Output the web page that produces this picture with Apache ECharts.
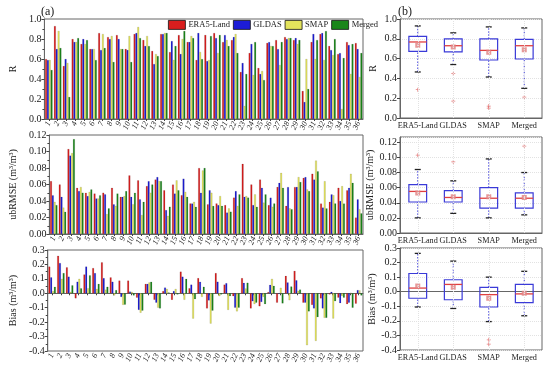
<!DOCTYPE html>
<html><head><meta charset="utf-8">
<script src="https://cdn.jsdelivr.net/npm/echarts@6/dist/echarts.min.js"></script>
<style>html,body{margin:0;padding:0;background:#fff}#c{width:550px;height:369px}</style>
</head><body><div id="c"></div><script>
// ---------- data ----------
const stations = ['1','2','3','4','5','6','7','8','9','10','11','12','13','14','15','16','17','18','19','20','21','22','23','24','25','26','27','28','29','30','31','32','33','34','35','36'];
const products = ['ERA5-Land','GLDAS','SMAP','Merged'];

const rERA5   = [0.60,0.93,0.53,0.80,0.75,0.70,0.86,0.82,0.84,0.70,0.85,0.79,0.68,0.85,0.67,0.84,0.77,0.59,0.84,0.86,0.77,0.79,0.47,0.66,0.51,0.76,0.79,0.82,0.79,0.28,0.77,0.85,0.73,0.65,0.77,0.76];
const rGLDAS  = [0.59,0.70,0.60,0.77,0.80,0.70,0.69,0.80,0.80,0.69,0.86,0.73,0.55,0.85,0.78,0.65,0.77,0.86,0.58,0.81,0.84,0.82,0.56,0.75,0.45,0.77,0.70,0.80,0.81,0.17,0.85,0.86,0.69,0.66,0.74,0.70];
const rSMAP   = [0.59,0.88,0.56,0.77,0.75,0.70,0.85,0.83,0.70,0.83,0.92,0.83,0.65,0.86,0.59,0.80,0.83,0.67,0.59,0.66,0.79,0.85,0.13,0.44,0.48,0.73,0.54,0.81,0.75,0.60,0.60,0.59,0.64,0.10,0.45,0.42];
const rMerged = [0.49,0.71,0.22,0.81,0.79,0.59,0.71,0.57,0.70,0.57,0.81,0.73,0.63,0.86,0.73,0.88,0.81,0.60,0.83,0.84,0.73,0.66,0.45,0.77,0.39,0.73,0.77,0.81,0.79,0.30,0.79,0.88,0.80,0.61,0.75,0.66];

const ubERA5   = [0.064,0.060,0.103,0.056,0.050,0.049,0.050,0.056,0.045,0.071,0.065,0.058,0.066,0.053,0.060,0.047,0.037,0.080,0.036,0.037,0.035,0.044,0.085,0.060,0.066,0.035,0.057,0.034,0.057,0.068,0.073,0.037,0.039,0.056,0.053,0.020];
const ubGLDAS  = [0.047,0.045,0.095,0.052,0.046,0.043,0.048,0.036,0.045,0.045,0.042,0.064,0.069,0.029,0.049,0.067,0.037,0.050,0.053,0.035,0.026,0.052,0.045,0.035,0.056,0.044,0.062,0.057,0.057,0.069,0.066,0.032,0.048,0.040,0.056,0.042];
const ubSMAP   = [0.039,0.032,0.098,0.057,0.051,0.043,0.024,0.034,0.046,0.036,0.023,0.050,0.064,0.022,0.065,0.051,0.039,0.077,0.050,0.046,0.031,0.034,0.046,0.048,0.038,0.033,0.074,0.031,0.069,0.054,0.089,0.064,0.047,0.058,0.073,0.030];
const ubMerged = [0.035,0.027,0.115,0.050,0.054,0.047,0.031,0.049,0.052,0.050,0.039,0.060,0.064,0.033,0.053,0.045,0.033,0.080,0.034,0.034,0.027,0.048,0.044,0.033,0.048,0.037,0.056,0.030,0.063,0.052,0.076,0.031,0.037,0.037,0.062,0.025];

const biasERA5   = [0.185,0.26,0.18,-0.035,0.13,0.175,0.215,0.11,0.088,0.088,-0.03,0.065,-0.045,0.015,-0.045,0.15,0.035,0.105,-0.105,0.14,0.06,-0.02,0.105,-0.105,-0.09,0.008,-0.065,0.12,0.155,-0.065,-0.08,-0.035,-0.008,-0.03,-0.075,-0.072];
const biasGLDAS  = [0.11,0.21,0.115,0.08,0.185,0.14,0.105,0.08,-0.025,0.012,-0.115,0.065,-0.065,0.04,0.015,0.115,0.06,0.08,-0.05,0.08,0.07,-0.10,0.072,-0.055,-0.06,0.058,-0.005,0.075,0.09,-0.065,-0.105,-0.105,0.01,-0.068,-0.065,0.022];
const biasSMAP   = [0.015,0.10,0.01,0.10,0.035,0.03,0.025,-0.015,-0.08,0.01,-0.135,0.075,-0.10,0.03,0.03,-0.045,-0.175,-0.025,-0.21,-0.02,-0.115,-0.125,0.033,-0.075,-0.025,0.10,0.038,-0.048,0.017,-0.36,-0.33,-0.17,-0.175,-0.018,0.003,0.02];
const biasMerged = [0.045,0.14,0.055,0.035,0.125,0.065,0.045,0.022,-0.078,-0.015,-0.12,0.08,-0.105,0.005,-0.008,0.10,-0.04,0.045,-0.12,-0.008,-0.02,-0.10,0.073,-0.065,-0.075,0.052,-0.07,0.047,0.026,-0.125,-0.165,-0.17,-0.055,-0.03,-0.10,-0.015];

// box stats: [min whisker, Q1, median, Q3, max whisker]
const rBox  = [[0.465,0.673,0.768,0.825,0.93],[0.54,0.667,0.73,0.80,0.86],[0.414,0.586,0.683,0.80,0.92],[0.30,0.596,0.73,0.795,0.91]];
const rMean = [0.734,0.717,0.663,0.69];
const rOut  = [[0,0.286],[1,0.448],[1,0.17],[2,0.12],[2,0.10],[3,0.21]];
const ubBox  = [[0.020,0.041,0.055,0.064,0.084],[0.026,0.041,0.047,0.056,0.069],[0.020,0.033,0.046,0.060,0.098],[0.024,0.033,0.046,0.053,0.080]];
const ubMean = [0.053,0.048,0.048,0.047];
const ubOut  = [[0,0.103],[1,0.094],[3,0.115]];
const biasBox  = [[-0.105,-0.045,0.025,0.125,0.263],[-0.115,-0.055,0.05,0.082,0.21],[-0.205,-0.105,-0.02,0.03,0.10],[-0.165,-0.075,-0.015,0.05,0.14]];
const biasMean = [0.04,0.03,-0.045,-0.01];
const biasOut  = [[2,-0.33],[2,-0.36]];

// ---------- styling ----------
const FONT = 'Liberation Serif';
const colors = ['#d91e1e','#1c1cd6','#e3e35c','#1a861a'];
const txt = '#222';

const gridsA = [
  {left:36, top:19, width:327, height:100},
  {left:36, top:135, width:327, height:99},
  {left:36, top:250, width:327, height:101}
];
const gridsB = [
  {left:400, top:19, width:142, height:99},
  {left:400, top:137, width:142, height:96},
  {left:400, top:248, width:142, height:102}
];
const grid = gridsA.concat(gridsB).map(g => Object.assign({show:true, borderColor:'#666', borderWidth:1, backgroundColor:'transparent'}, g));

const yDefs = [
  {min:0, max:1, interval:0.2, dec:1, name:'R', gap:19},
  {min:0, max:0.12, interval:0.02, dec:2, name:'ubRMSE (m³/m³)', gap:23},
  {min:-0.4, max:0.3, interval:0.1, dec:1, name:'Bias (m³/m³)', gap:22},
  {min:0, max:1, interval:0.2, dec:1, name:'R', gap:22},
  {min:0, max:0.127, interval:0.02, dec:2, name:'ubRMSE (m³/m³)', gap:25},
  {min:-0.4, max:0.3, interval:0.1, dec:1, name:'Bias (m³/m³)', gap:23}
];

const yAxis = yDefs.map((d,i) => ({
  type:'value', gridIndex:i, min:d.min, max:d.max, interval:d.interval,
  name:d.name, nameLocation:'middle', nameGap:d.gap,
  nameTextStyle:{fontFamily:FONT, fontSize:10, color:txt},
  axisLine:{show:true, lineStyle:{color:'#666'}},
  axisTick:{show:true, length:3, lineStyle:{color:'#444'}},
  minorTick:{show:i<3, splitNumber:2, length:2, lineStyle:{color:'#444'}},
  axisLabel:{fontFamily:FONT, fontSize:10, color:txt, margin:3, showMaxLabel: i!==4,
    formatter: v => (Math.round(v*1000)/1000).toFixed(d.dec)},
  splitLine:{show:i>=3, lineStyle:{color:'#e2e2e2', type:'dotted'}}
}));

const xAxis = [];
for (let i=0;i<3;i++) xAxis.push({
  type:'category', gridIndex:i, data:stations,
  axisLine:{lineStyle:{color:'#666'}},
  axisTick:{show:true, length:2, interval:0, alignWithLabel:true, lineStyle:{color:'#444'}},
  axisLabel:{interval:0, rotate:65, fontFamily:FONT, fontSize:8, fontStyle:'italic', color:txt, margin:3}
});
for (let i=0;i<3;i++) xAxis.push({
  type:'category', gridIndex:3+i, data:products,
  axisLine:{lineStyle:{color:'#666'}},
  axisTick:{show:false},
  axisLabel:{fontFamily:FONT, fontSize:8.2, color:txt, margin:4, interval:0}
});

const series = [];
const barSets = [
  [rERA5, rGLDAS, rSMAP, rMerged],
  [ubERA5, ubGLDAS, ubSMAP, ubMerged],
  [biasERA5, biasGLDAS, biasSMAP, biasMerged]
];
barSets.forEach((set, gi) => {
  set.forEach((arr, si) => {
    series.push({
      type:'bar', name:products[si], xAxisIndex:gi, yAxisIndex:gi, data:arr,
      barGap:'0%', barCategoryGap:'16%',
      itemStyle:{color:colors[si], borderColor:'rgba(0,0,0,0.35)', borderWidth:0.3},
      emphasis:{disabled:true}
    });
  });
});

function renderBox(params, api) {
  const x = api.value(0);
  const p = [1,2,3,4,5].map(k => api.coord([x, api.value(k)]));
  const cx = p[0][0];
  const bw = api.size([1,0])[0]*0.5;
  const cw = 3;
  const dash = {stroke:'#4040dd', lineWidth:1, lineDash:[1.5,1.5]};
  return {type:'group', children:[
    {type:'line', shape:{x1:cx, y1:p[0][1], x2:cx, y2:p[1][1]}, style:dash},
    {type:'line', shape:{x1:cx, y1:p[3][1], x2:cx, y2:p[4][1]}, style:dash},
    {type:'line', shape:{x1:cx-cw, y1:p[0][1], x2:cx+cw, y2:p[0][1]}, style:{stroke:'#222', lineWidth:1.3}},
    {type:'line', shape:{x1:cx-cw, y1:p[4][1], x2:cx+cw, y2:p[4][1]}, style:{stroke:'#222', lineWidth:1.3}},
    {type:'rect', shape:{x:cx-bw/2, y:p[3][1], width:bw, height:p[1][1]-p[3][1]}, style:{fill:'none', stroke:'#3a3ad8', lineWidth:1.2}},
    {type:'line', shape:{x1:cx-bw/2, y1:p[2][1], x2:cx+bw/2, y2:p[2][1]}, style:{stroke:'#e04040', lineWidth:1.3}}
  ]};
}

const boxSets = [[rBox,rMean,rOut],[ubBox,ubMean,ubOut],[biasBox,biasMean,biasOut]];
boxSets.forEach((b, k) => {
  const gi = 3+k;
  series.push({
    type:'custom', xAxisIndex:gi, yAxisIndex:gi, renderItem:renderBox,
    encode:{x:0, y:[1,2,3,4,5]},
    data: b[0].map((s,i) => [i].concat(s)), z:3
  });
  series.push({
    type:'scatter', xAxisIndex:gi, yAxisIndex:gi, symbol:'emptyRect', symbolSize:3,
    itemStyle:{color:'#e08080', borderWidth:0.8},
    data: b[1].map((m,i) => [i, m]), z:4,
    markLine:{silent:true, symbol:'none', label:{show:false},
      lineStyle:{color:'#e2e2e2', type:'dotted', width:1},
      data: products.map((p,i) => ({xAxis:i}))}
  });
  series.push({
    type:'scatter', xAxisIndex:gi, yAxisIndex:gi,
    symbol:'path://M4,0H6V4H10V6H6V10H4V6H0V4H4Z', symbolSize:4,
    itemStyle:{color:'#e06060'}, data: b[2], z:4
  });
});

const chart = echarts.init(document.getElementById('c'), null, {renderer:'canvas'});
chart.setOption({
  animation:false,
  backgroundColor:'#fff',
  title:[
    {text:'(a)', left:36, top:1, textStyle:{fontFamily:FONT, fontSize:12, fontWeight:'normal', color:txt}},
    {text:'(b)', left:393, top:1, textStyle:{fontFamily:FONT, fontSize:12, fontWeight:'normal', color:txt}}
  ],
  legend:{
    data:products, left:168, top:20, itemWidth:17, itemHeight:9, itemGap:3, padding:0,
    icon:'rect', itemStyle:{borderColor:'#111', borderWidth:0.8},
    textStyle:{fontFamily:FONT, fontSize:8.5, color:txt, padding:[0,0,0,-2]},
    selectedMode:false
  },
  grid, xAxis, yAxis, series
});
</script></body></html>
